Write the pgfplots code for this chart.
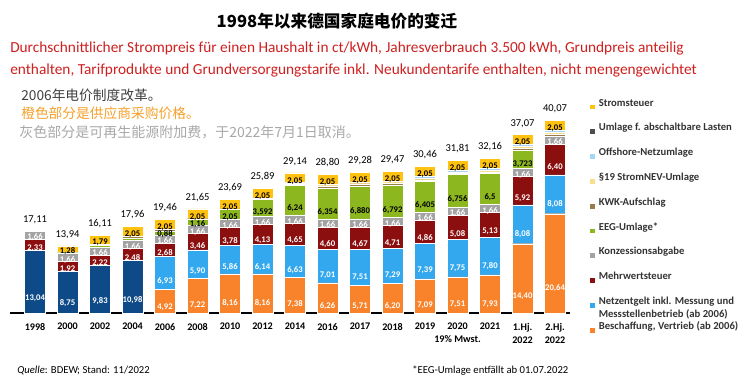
\documentclass[border=0pt]{standalone}
\usepackage{pgfplots}
\pgfplotsset{compat=1.18}
\usepackage{pgfplotstable}
\usepackage{fontspec}
\setmainfont{Carlito}
\newfontfamily\cjk{Noto Sans CJK SC}

\definecolor{cAlt}{HTML}{0D4A87}
\definecolor{cBesch}{HTML}{F8832A}
\definecolor{cNetz}{HTML}{33A8EE}
\definecolor{cMwst}{HTML}{8C0F0F}
\definecolor{cKonz}{HTML}{A3A3A3}
\definecolor{cEEG}{HTML}{8DB71E}
\definecolor{cKWK}{HTML}{9A7B4F}
\definecolor{cNEV}{HTML}{F8DF8E}
\definecolor{cOffs}{HTML}{A4D6F6}
\definecolor{cAbsch}{HTML}{4D4D4D}
\definecolor{cSteuer}{HTML}{FFC20F}
\definecolor{cRed}{HTML}{CF1F1F}
\definecolor{cOrange}{HTML}{F5A02A}
\definecolor{cGray}{HTML}{A8A8A8}
\definecolor{cDark}{HTML}{3F3F3F}
\definecolor{cLeg}{HTML}{333333}

\newcommand\segfont{\fontsize{6.5}{7}\selectfont\bfseries}
\newcommand\totfont{\fontsize{7.9}{9}\selectfont}
\newcommand\tickfont{\fontsize{7.6}{9.75}\selectfont\bfseries}
\newcommand\legfont{\fontsize{8}{9.5}\selectfont\bfseries}

\pgfplotstableread{
x alt besch netz mwst konz eeg kwk nev offs absch steuer tot lalt lbesch lnetz lmwst lkonz leeg lsteuer ltot
0 13.04 0 0 2.33 1.66 0.08 0 0 0 0 0 17.11 13,04 {} {} 2,33 1,66 {} {} 17,11
1 8.75 0 0 1.92 1.66 0.20 0.13 0 0 0 1.28 13.94 8,75 {} {} 1,92 1,66 {} 1,28 13,94
2 9.83 0 0 2.22 1.66 0.35 0.26 0 0 0 1.79 16.11 9,83 {} {} 2,22 1,66 {} 1,79 16,11
3 10.98 0 0 2.48 1.66 0.51 0.28 0 0 0 2.05 17.96 10,98 {} {} 2,48 1,66 {} 2,05 17,96
4 0 4.92 6.93 2.68 1.66 0.88 0.34 0 0 0 2.05 19.46 {} 4,92 6,93 2,68 1,66 0,88 2,05 19,46
5 0 7.22 5.90 3.46 1.66 1.16 0.20 0 0 0 2.05 21.65 {} 7,22 5,90 3,46 1,66 1,16 2,05 21,65
6 0 8.16 5.86 3.78 1.66 2.05 0.13 0 0 0 2.05 23.69 {} 8,16 5,86 3,78 1,66 2,05 2,05 23,69
7 0 8.16 6.14 4.13 1.66 3.592 0.002 0.151 0 0 2.05 25.89 {} 8,16 6,14 4,13 1,66 3,592 2,05 25,89
8 0 7.38 6.63 4.65 1.66 6.24 0.178 0.092 0.25 0.009 2.05 29.14 {} 7,38 6,63 4,65 1,66 6,24 2,05 29,14
9 0 6.26 7.01 4.60 1.66 6.354 0.445 0.378 0.04 0.003 2.05 28.80 {} 6,26 7,01 4,60 1,66 6,354 2,05 28,80
10 0 5.71 7.51 4.67 1.66 6.88 0.438 0.358 0 0.006 2.05 29.28 {} 5,71 7,51 4,67 1,66 6,880 2,05 29,28
11 0 6.20 7.29 4.71 1.66 6.792 0.345 0.370 0.037 0.011 2.05 29.47 {} 6,20 7,29 4,71 1,66 6,792 2,05 29,47
12 0 7.09 7.39 4.86 1.66 6.405 0.280 0.305 0.416 0.005 2.05 30.46 {} 7,09 7,39 4,86 1,66 6,405 2,05 30,46
13 0 7.51 7.75 5.08 1.66 6.756 0.226 0.358 0.416 0.007 2.05 31.81 {} 7,51 7,75 5,08 1,66 6,756 2,05 31,81
14 0 7.93 7.80 5.13 1.66 6.5 0.254 0.432 0.395 0.009 2.05 32.16 {} 7,93 7,80 5,13 1,66 6,5 2,05 32,16
15 0 14.40 8.08 5.92 1.66 3.723 0.378 0.437 0.419 0.003 2.05 37.07 {} 14,40 8,08 5,92 1,66 3,723 2,05 37,07
16 0 20.64 8.08 6.40 1.66 0 0.378 0.437 0.419 0.003 2.05 40.07 {} 20,64 8,08 6,40 1,66 {} 2,05 40,07
}\data

\pgfplotsset{
  seg/.style n args={3}{fill=#1, draw=white, line width=0.35pt,
    nodes near coords, point meta=explicit symbolic,
    visualization depends on={\thisrow{#3} \as \rawy},
    every node near coord/.style={font=\segfont, text=#2, anchor=center,
      inner sep=0pt, text height=4.2pt, text depth=0pt,
      shift={(axis direction cs:0,-\rawy/4)}}},
  thin/.style={fill=#1, draw=white, line width=0.35pt},
  frame/.style={at={(7.5pt,-234.75pt)}, anchor=south west,
    scale only axis, width=420pt, height=151.5pt,
    xmin=-0.77, xmax=16.46, ymin=0, ymax=42, bar width=15.5pt, clip=false},
}

\begin{document}
\begin{tikzpicture}
\begin{scope}[x=0.75pt,y=-0.75pt]
\path[use as bounding box] (0,0) rectangle (756,385);
\node[anchor=base, inner sep=0pt, font=\cjk\bfseries\fontsize{12.5}{14}\selectfont] at (337,28) {1998年以来德国家庭电价的变迁};
\node[anchor=base west, inner sep=0pt, text=cRed, font=\fontsize{11.5}{12}\selectfont] at (10,52.5) {Durchschnittlicher Strompreis für einen Haushalt in ct/kWh, Jahresverbrauch 3.500 kWh, Grundpreis anteilig};
\node[anchor=base west, inner sep=0pt, text=cRed, font=\fontsize{11.5}{12}\selectfont] at (10,74.5) {enthalten, Tarifprodukte und Grundversorgungstarife inkl. Neukundentarife enthalten, nicht mengengewichtet};
\node[anchor=base west, inner sep=0pt, text=cDark, font=\cjk\fontsize{10.3}{12}\selectfont] at (21,100) {2006年电价制度改革。};
\node[anchor=base west, inner sep=0pt, text=cOrange, font=\cjk\fontsize{10.3}{12}\selectfont] at (21,118) {橙色部分是供应商采购价格。};
\node[anchor=base west, inner sep=0pt, text=cGray, font=\cjk\fontsize{10.5}{12}\selectfont] at (19,137) {灰色部分是可再生能源附加费，于2022年7月1日取消。};
\node[anchor=base west, inner sep=0pt, font=\fontsize{8}{9}\selectfont] at (17,373.5) {\textit{Quelle}: BDEW; Stand: 11/2022};
\node[anchor=base west, inner sep=0pt, font=\fontsize{8}{9}\selectfont] at (412,373.5) {*EEG-Umlage entfällt ab 01.07.2022};
\end{scope}

\begin{axis}[frame,
  ybar stacked,
  axis x line=bottom, axis y line=none,
  x axis line style={-, line width=0.9pt, black},
  xtick={0,...,16},
  xticklabels={1998,2000,2002,2004,2006,2008,2010,2012,2014,2016,2017,2018,2019,{2020\\19\% Mwst.},2021,{1.Hj.\\2022},{2.Hj.\\2022}},
  xtick style={draw=none}, major tick length=0pt,
  xticklabel style={font=\tickfont, align=center, inner sep=0pt, yshift=-7.5pt},
  reverse legend,
  legend image code/.code={\fill[#1,draw=none] (0pt,0.8pt) rectangle (3.6pt,4.4pt);},
  legend style={at={(1.0357,1.064)}, anchor=north west, draw=none, fill=none,
    inner sep=0pt, outer sep=0pt, row sep=0pt, column sep=3pt, font=\legfont, text=cLeg,
    nodes={inner sep=0pt, text height=6pt, text depth=12.6pt}},
  legend cell align=left,
]
\addplot[forget plot, seg={cAlt}{white}{alt}] table[x=x, y=alt, meta=lalt] {\data};
\addplot[seg={cBesch}{white}{besch}] table[x=x, y=besch, meta=lbesch] {\data};
\addlegendentry{Beschaffung, Vertrieb (ab 2006)}
\addplot[seg={cNetz}{white}{netz}] table[x=x, y=netz, meta=lnetz] {\data};
\addlegendentry{\begin{tabular}[t]{@{}l@{}}Netzentgelt inkl. Messung und\\Messstellenbetrieb (ab 2006)\end{tabular}}
\addplot[seg={cMwst}{white}{mwst}] table[x=x, y=mwst, meta=lmwst] {\data};
\addlegendentry{Mehrwertsteuer}
\addplot[seg={cKonz}{white}{konz}] table[x=x, y=konz, meta=lkonz] {\data};
\addlegendentry{Konzessionsabgabe}
\addplot[seg={cEEG}{black}{eeg}] table[x=x, y=eeg, meta=leeg] {\data};
\addlegendentry{EEG-Umlage*}
\addplot[thin=cKWK] table[x=x, y=kwk] {\data};
\addlegendentry{KWK-Aufschlag}
\addplot[thin=cNEV] table[x=x, y=nev] {\data};
\addlegendentry{§19 StromNEV-Umlage}
\addplot[thin=cOffs] table[x=x, y=offs] {\data};
\addlegendentry{Offshore-Netzumlage}
\addplot[thin=cAbsch] table[x=x, y=absch] {\data};
\addlegendentry{Umlage f. abschaltbare Lasten}
\addplot[seg={cSteuer}{black}{steuer}] table[x=x, y=steuer, meta=lsteuer] {\data};
\addlegendentry{Stromsteuer}
\end{axis}

\begin{axis}[frame, ybar, hide axis]
\addplot[draw=none, fill=none, nodes near coords, point meta=explicit symbolic,
  every node near coord/.style={font=\totfont, text=black, anchor=base, yshift=6.5pt, inner sep=0pt}]
  table[x=x, y=tot, meta=ltot] {\data};
\end{axis}
\end{tikzpicture}
\end{document}
